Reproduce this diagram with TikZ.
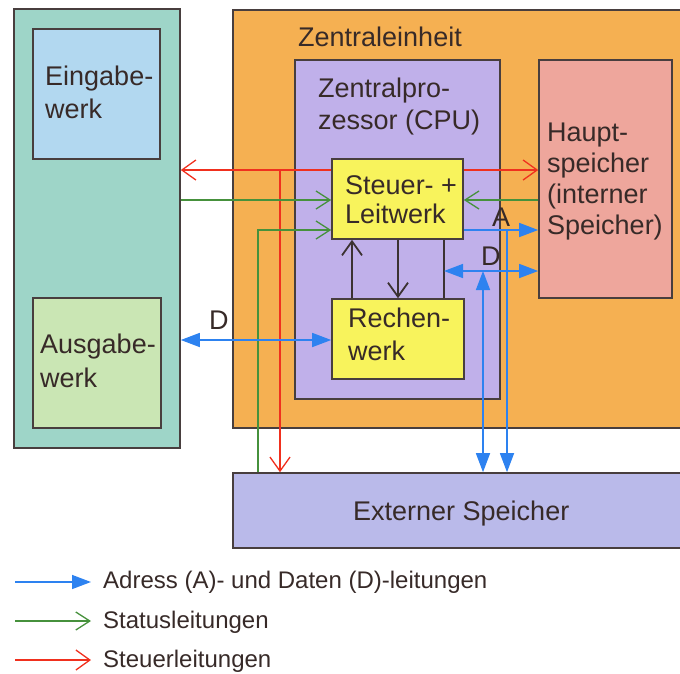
\documentclass[tikz,border=0pt]{standalone}
\usepackage{fontspec}
\setmainfont{Liberation Sans}
\usetikzlibrary{arrows.meta}
\definecolor{tealc}{RGB}{158,213,200}
\definecolor{einc}{RGB}{178,216,240}
\definecolor{ausc}{RGB}{202,230,180}
\definecolor{orc}{RGB}{245,176,82}
\definecolor{cpuc}{RGB}{192,176,234}
\definecolor{hauptc}{RGB}{238,166,156}
\definecolor{yelc}{RGB}{248,243,92}
\definecolor{extc}{RGB}{186,186,234}
\definecolor{boxline}{RGB}{72,62,62}
\definecolor{txt}{RGB}{55,42,40}
\definecolor{redc}{RGB}{240,48,30}
\definecolor{grnc}{RGB}{70,145,60}
\definecolor{bluc}{RGB}{45,130,240}
\definecolor{blkc}{RGB}{60,50,50}
\begin{document}
\begin{tikzpicture}[x=1pt,y=-1pt,
  box/.style={draw=boxline, line width=1.6pt, inner sep=0pt},
  lbl/.style={anchor=base west, inner sep=0pt, text=txt, font=\fontsize{27}{32}\selectfont},
  leg/.style={anchor=base west, inner sep=0pt, text=txt, font=\fontsize{24}{28}\selectfont},
  ctl/.style={draw=redc, line width=1.3pt, -{Straight Barb[length=14pt,width=20pt]}},
  sts/.style={draw=grnc, line width=1.3pt, -{Straight Barb[length=14pt,width=18pt]}},
  blk/.style={draw=blkc, line width=1.8pt, -{Straight Barb[length=14pt,width=20pt]}},
  blkline/.style={draw=blkc, line width=1.8pt},
  bus/.style={draw=bluc, line width=1.5pt, -{Triangle[length=19pt,width=14pt]}},
  bus2/.style={draw=bluc, line width=1.5pt, {Triangle[length=19pt,width=14pt]}-{Triangle[length=19pt,width=14pt]}}
]
\useasboundingbox (0,0) rectangle (680,673);
\clip (0,0) rectangle (680,673);

% boxes
\node[box, fill=tealc, minimum width=166pt, minimum height=439pt] (periph) at (97,228.5) {};
\node[box, fill=einc, minimum width=127pt, minimum height=130pt] (ein) at (96.5,94) {};
\node[box, fill=ausc, minimum width=128pt, minimum height=130pt] (aus) at (97,363) {};
\node[box, fill=orc, minimum width=467pt, minimum height=418pt] (zent) at (466.5,219) {};
\node[box, fill=cpuc, minimum width=205pt, minimum height=339pt] (cpu) at (397.5,229.5) {};
\node[box, fill=hauptc, minimum width=133pt, minimum height=238pt] (haupt) at (605.5,179) {};
\node[box, fill=yelc, minimum width=131pt, minimum height=80pt] (sw) at (397.5,199) {};
\node[box, fill=yelc, minimum width=132pt, minimum height=80pt] (rw) at (398,339) {};
\node[box, fill=extc, minimum width=467pt, minimum height=75pt] (ext) at (466.5,510.5) {};

% labels
\node[lbl] (ein1) at (45,85) {Eingabe-};
\node[lbl] (ein2) at (45,118) {werk};
\node[lbl] (aus1) at (40,353) {Ausgabe-};
\node[lbl] (aus2) at (40,387) {werk};
\node[lbl] (zent1) at (298,46) {Zentraleinheit};
\node[lbl] (cpu1) at (318,97) {Zentralpro-};
\node[lbl] (cpu2) at (318,129) {zessor (CPU)};
\node[lbl] (h1) at (547,141) {Haupt-};
\node[lbl] (h2) at (547,172) {speicher};
\node[lbl] (h3) at (547,203) {(interner};
\node[lbl] (h4) at (547,234) {Speicher)};
\node[lbl] (sw1) at (345,194) {Steuer- +};
\node[lbl] (sw2) at (345,223) {Leitwerk};
\node[lbl] (rw1) at (348,327) {Rechen-};
\node[lbl] (rw2) at (348,360) {werk};
\node[lbl] (ext1) at (353,520) {Externer Speicher};
\node[lbl] (la) at (492,226) {A};
\node[lbl] (ld) at (481,265) {D};
\node[lbl] (ld2) at (209,329) {D};

% helper coordinates
\coordinate (yr) at (0,170);
\coordinate (yg) at (0,200);
\coordinate (ya) at (0,230);
\coordinate (yd) at (0,271);
\coordinate (yd2) at (0,340);
\coordinate (rx) at (280,0);
\coordinate (gx) at (258,0);
\coordinate (bx1) at (352,0);
\coordinate (bx2) at (398,0);
\coordinate (bx3) at (444,0);
\coordinate (dx) at (483,0);
\coordinate (ax) at (507,0);

% red control lines
\draw[ctl] (sw.west |- yr) -- (periph.east |- yr);
\draw[ctl] (sw.east |- yr) -- (haupt.west |- yr);
\draw[ctl] (rx |- yr) -- (rx |- ext.north);

% green status lines
\draw[sts] (periph.east |- yg) -- (sw.west |- yg);
\draw[sts] (haupt.west |- yg) -- (sw.east |- yg);
\draw[sts] (gx |- ext.north) |- (sw.west |- ya);

% black internal lines
\draw[blk] (bx1 |- rw.north) -- (bx1 |- sw.south);
\draw[blk] (bx2 |- sw.south) -- (bx2 |- rw.north);
\draw[blkline] (bx3 |- sw.south) -- (bx3 |- rw.north);

% blue address/data lines
\draw[bus] (sw.east |- ya) -- (haupt.west |- ya);
\draw[bus] (ax |- ya) -- (ax |- ext.north);
\draw[bus2] (bx3 |- yd) -- (haupt.west |- yd);
\draw[bus2] (dx |- yd) -- (dx |- ext.north);
\draw[bus2] (periph.east |- yd2) -- (rw.west |- yd2);

% legend
\coordinate (l1a) at (15,582);
\coordinate (l1b) at (91,582);
\coordinate (l2a) at (15,621);
\coordinate (l2b) at (91,621);
\coordinate (l3a) at (15,660);
\coordinate (l3b) at (91,660);
\draw[bus] (l1a) -- (l1b);
\draw[sts] (l2a) -- (l2b);
\draw[ctl] (l3a) -- (l3b);
\node[leg] (t1) at (103,588) {Adress (A)- und Daten (D)-leitungen};
\node[leg] (t2) at (103,628) {Statusleitungen};
\node[leg] (t3) at (103,667) {Steuerleitungen};
\end{tikzpicture}
\end{document}
